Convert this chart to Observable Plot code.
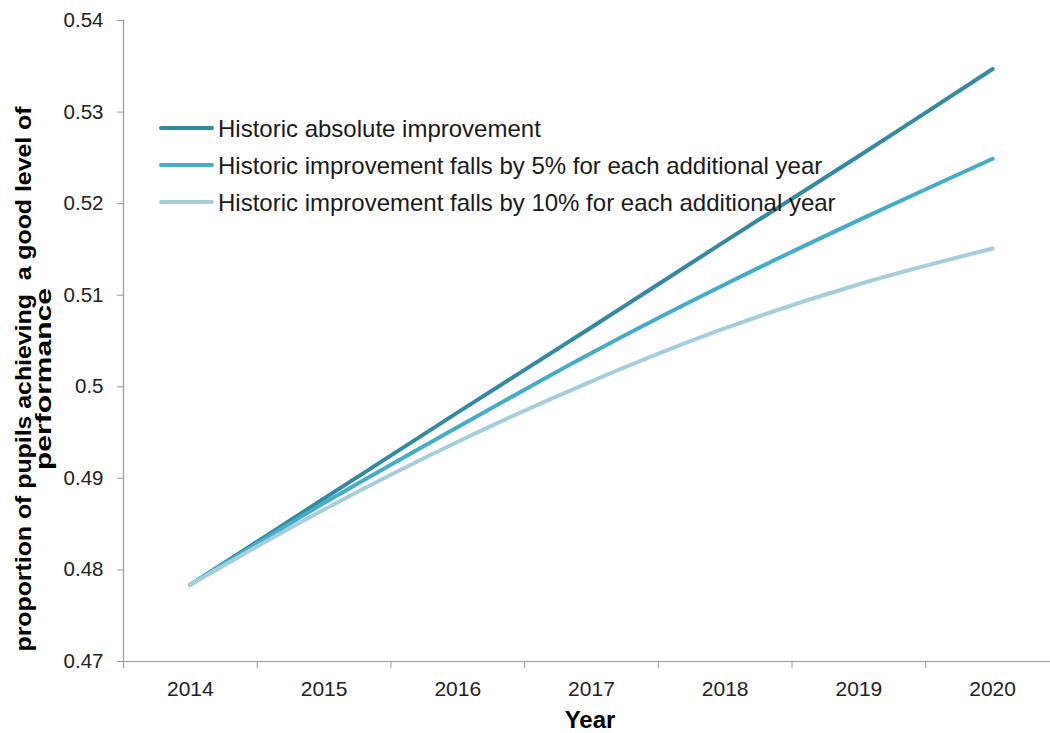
<!DOCTYPE html>
<html>
<head>
<meta charset="utf-8">
<script src="https://cdn.jsdelivr.net/npm/d3@7"></script>
<script src="https://cdn.jsdelivr.net/npm/@observablehq/plot@0.6"></script>
<style>
  html, body { margin: 0; padding: 0; background: #fff; overflow: hidden; }
  #chart { position: relative; width: 1050px; height: 733px; }
  svg { font-family: "Liberation Sans", Arial, sans-serif; }
</style>
</head>
<body>
<div id="chart"></div>
<script>
const years = [2014, 2015, 2016, 2017, 2018, 2019, 2020];
const absolute = [0.4784, 0.4878, 0.4972, 0.5065, 0.5159, 0.5252, 0.5347];
const falls5 = [0.4784, 0.4873, 0.4956, 0.5037, 0.5112, 0.5182, 0.5249];
const falls10 = [0.4784, 0.4866, 0.4940, 0.5006, 0.5064, 0.5112, 0.5151];
const seriesNames = [
  "Historic absolute improvement",
  "Historic improvement falls by 5% for each additional year",
  "Historic improvement falls by 10% for each additional year"
];
const seriesColors = ["#368a9f", "#45adc6", "#a6cddb"];
const yTicks = [0.47, 0.48, 0.49, 0.5, 0.51, 0.52, 0.53, 0.54];
const xBoundaries = [2013.5, 2014.5, 2015.5, 2016.5, 2017.5, 2018.5, 2019.5, 2020.5];

const seriesValues = [absolute, falls5, falls10];
const data = [];
seriesValues.forEach((vals, i) => {
  years.forEach((yr, j) => data.push({series: seriesNames[i], year: yr, value: vals[j]}));
});

const axisGray = "#9a9a9a";

const plot = Plot.plot({
  width: 1050,
  height: 733,
  marginLeft: 123,
  marginTop: 20,
  marginBottom: 72,
  marginRight: 0,
  style: {fontFamily: '"Liberation Sans", Arial, sans-serif', fontSize: "20px", color: "#222", background: "#fff"},
  x: {domain: [2013.5, 2020.433], label: null},
  y: {domain: [0.47, 0.54], label: null},
  color: {domain: seriesNames, range: seriesColors},
  marks: [
    Plot.ruleY([0.47], {stroke: axisGray, strokeWidth: 1.2}),
    Plot.ruleX([2013.5], {stroke: axisGray, strokeWidth: 1.2}),
    Plot.axisY(yTicks, {tickSize: 6, tickPadding: 14, stroke: axisGray, fill: "#222", fontSize: 20.5,
      tickFormat: d => String(+d.toFixed(2))}),
    Plot.axisX(xBoundaries, {tickSize: 7, text: null, stroke: axisGray}),
    Plot.axisX(years, {tickSize: 0, tickPadding: 20, fill: "#222", fontSize: 21, tickFormat: d => String(d)}),
    Plot.line(data, {x: "year", y: "value", z: "series", stroke: "series", strokeWidth: 4,
      curve: "catmull-rom", strokeLinecap: "round"})
  ]
});

document.getElementById("chart").appendChild(plot);

// Titles and legend
const svg = d3.select(plot);
const ytitle = svg.append("g").attr("font-weight", "bold").attr("font-size", 22).attr("fill", "#000")
  .attr("font-family", '"Liberation Sans Narrow", "Liberation Sans", Arial, sans-serif');
ytitle.append("text")
  .attr("transform", "translate(31,379) rotate(-90)")
  .attr("text-anchor", "middle")
  .attr("textLength", 545).attr("lengthAdjust", "spacingAndGlyphs")
  .text("proportion of pupils achieving  a good level of");
ytitle.append("text")
  .attr("transform", "translate(51,379) rotate(-90)")
  .attr("text-anchor", "middle")
  .attr("textLength", 182).attr("lengthAdjust", "spacingAndGlyphs")
  .text("performance");

svg.append("text")
  .attr("x", 590).attr("y", 728)
  .attr("text-anchor", "middle")
  .attr("font-weight", "bold").attr("font-size", 24).attr("fill", "#000")
  .text("Year");

const legend = svg.append("g");
const legendY = [128, 165, 202];
seriesNames.forEach((name, i) => {
  legend.append("line")
    .attr("x1", 161).attr("x2", 212).attr("y1", legendY[i]).attr("y2", legendY[i])
    .attr("stroke", seriesColors[i]).attr("stroke-width", 4).attr("stroke-linecap", "round");
  legend.append("text")
    .attr("x", 218).attr("y", legendY[i]).attr("dy", "0.36em")
    .attr("text-anchor", "start")
    .attr("font-size", 24).attr("fill", "#1a1a1a")
    .text(name);
});
</script>
</body>
</html>
